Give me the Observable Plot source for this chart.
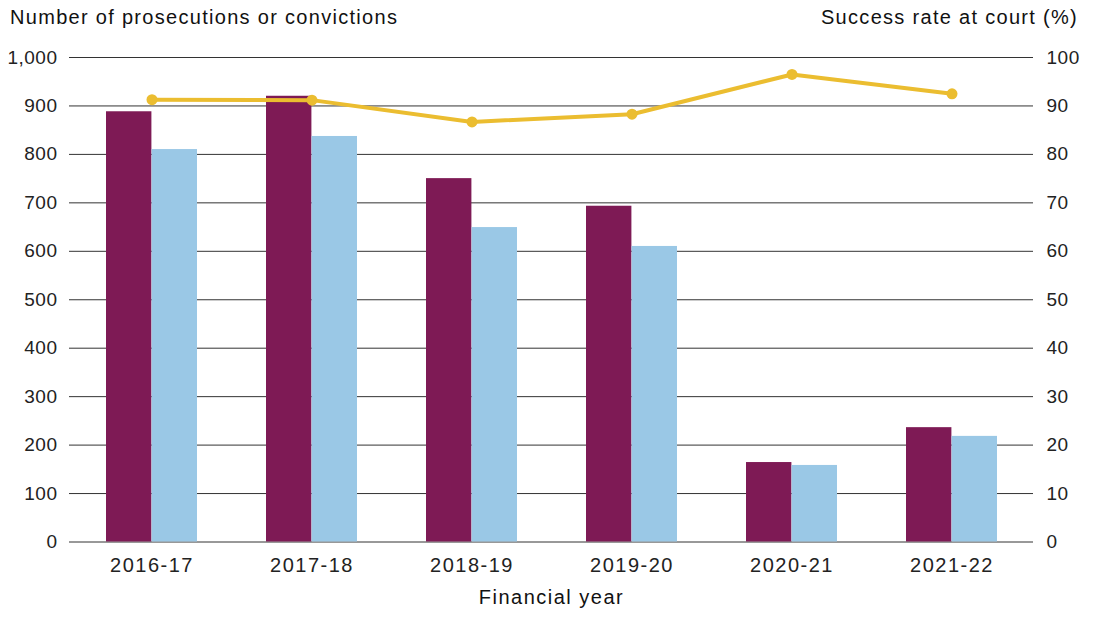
<!DOCTYPE html>
<html>
<head>
<meta charset="utf-8">
<script src="https://cdn.jsdelivr.net/npm/d3@7"></script>
<script src="https://cdn.jsdelivr.net/npm/@observablehq/plot@0.6"></script>
<style>
  body { margin: 0; background: #fff; font-family: "Liberation Sans", Arial, sans-serif; }
  #wrap { width: 1099px; }
  #hdr { position: relative; height: 40px; color: #111; font-size: 20px; line-height: 22px; letter-spacing: 1.3px; }
  #hdr .l { position: absolute; left: 10px; top: 6px; }
  #hdr .r { position: absolute; right: 21px; top: 6px; }
  g[aria-label="x-axis tick label"] text { letter-spacing: 1.5px; }
  g[aria-label="y-axis tick label"] text { letter-spacing: 0.5px; }
  g[aria-label="text"] text { letter-spacing: 1.5px; }
</style>
</head>
<body>
<div id="wrap">
  <div id="hdr"><span class="l">Number of prosecutions or convictions</span><span class="r">Success rate at court (%)</span></div>
  <div id="chart"></div>
</div>
<script>
const years = ["2016-17", "2017-18", "2018-19", "2019-20", "2020-21", "2021-22"];
const prosecutions = [888, 920, 750, 693, 164, 236];
const convictions = [810, 837, 649, 610, 158, 218];
const successRate = [91.3, 91.2, 86.7, 88.3, 96.5, 92.5];
const leftTicks = d3.range(0, 1001, 100);

const rows = years.map((y, i) => ({
  year: y,
  prosecutions: prosecutions[i],
  convictions: convictions[i],
  rate: successRate[i]
}));

const maroon = "#7E1A55";
const blue = "#9AC8E6";
const gold = "#EBBD30";

const chart = Plot.plot({
  width: 1099,
  height: 579,
  marginTop: 17,
  marginBottom: 77.5,
  marginLeft: 69,
  marginRight: 66,
  style: { fontFamily: '"Liberation Sans", Arial, sans-serif', fontSize: "19px", color: "#222", background: "white" },
  x: { type: "band", domain: years, paddingInner: 0.432, paddingOuter: 0.216, align: 0.5 },
  y: { domain: [0, 1000] },
  marks: [
    Plot.gridY(leftTicks, { stroke: "#333", strokeOpacity: 1, strokeWidth: 1 }),
    Plot.barY(rows, { x: "year", y: "prosecutions", fill: maroon, insetRight: 45.6 }),
    Plot.barY(rows, { x: "year", y: "convictions", fill: blue, insetLeft: 45.6 }),
    Plot.line(rows, { x: "year", y: d => d.rate * 10, stroke: gold, strokeWidth: 4 }),
    Plot.dot(rows, { x: "year", y: d => d.rate * 10, r: 5.5, fill: gold }),
    Plot.axisY({ ticks: leftTicks, tickFormat: d3.format(","), tickSize: 0, tickPadding: 12, label: null, fontSize: 19 }),
    Plot.axisY({ anchor: "right", ticks: leftTicks, tickFormat: d => d / 10, tickSize: 0, tickPadding: 13, label: null, fontSize: 19 }),
    Plot.axisX({ tickSize: 0, tickPadding: 16, label: null, fontSize: 20 }),
    Plot.text(["Financial year"], { frameAnchor: "bottom", dy: 62, fontSize: 20, fill: "#111" })
  ]
});
document.getElementById("chart").appendChild(chart);
</script>
</body>
</html>
